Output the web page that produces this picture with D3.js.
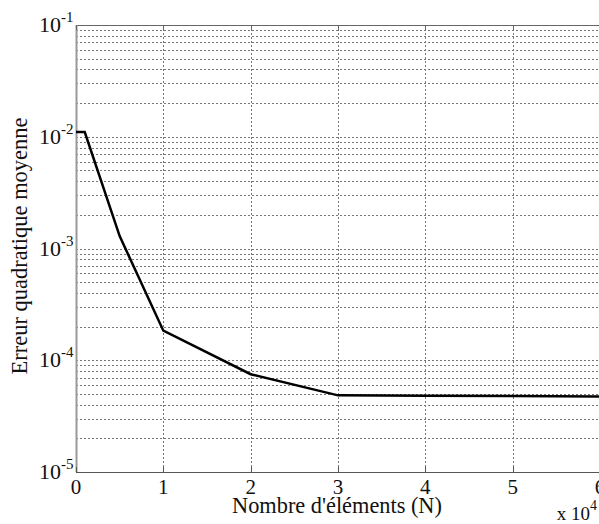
<!DOCTYPE html>
<html><head><meta charset="utf-8">
<script src="https://cdn.jsdelivr.net/npm/d3@7"></script>
<style>body{margin:0;background:#fff;} svg{display:block;} text{font-family:"Liberation Serif","Times New Roman",serif;}</style>
</head><body>
<script>
const xValues = [0, 0.1, 0.5, 1, 2, 3, 4, 5, 6];
const errValues = [0.011, 0.011, 0.00129, 0.000184, 0.000075, 0.0000485, 0.0000482, 0.0000478, 0.0000475];
const xTicks = [0, 1, 2, 3, 4, 5, 6];
const yTicks = [1e-5, 1e-4, 1e-3, 1e-2, 1e-1];
const yExponents = ["-5", "-4", "-3", "-2", "-1"];

const W = 599, H = 524;
const m = {left: 76, top: 25, right: 600, bottom: 472};
const svg = d3.select("body").append("svg").attr("width", W).attr("height", H);
const x = d3.scaleLinear().domain([0, 6]).range([m.left, m.right]);
const y = d3.scaleLog().domain([1e-5, 1e-1]).range([m.bottom, m.top]);

// minor + major y grid
const yGrid = [];
for (let e = -5; e < -1; e++) for (let k = 1; k <= 9; k++) yGrid.push(k * Math.pow(10, e));
svg.append("g").selectAll("line").data(yGrid.filter(v => v > 1e-5)).join("line")
  .attr("x1", m.left).attr("x2", m.right)
  .attr("y1", d => Math.round(y(d)) + 0.5).attr("y2", d => Math.round(y(d)) + 0.5)
  .attr("stroke", "#777").attr("stroke-width", 1).attr("stroke-dasharray", "2,2");
svg.append("g").selectAll("line").data(xTicks.slice(1)).join("line")
  .attr("x1", d => Math.round(x(d)) + 0.5).attr("x2", d => Math.round(x(d)) + 0.5)
  .attr("y1", m.top).attr("y2", m.bottom)
  .attr("stroke", "#777").attr("stroke-width", 1).attr("stroke-dasharray", "2,2");

// axes box
svg.append("line").attr("x1", m.left).attr("x2", m.right).attr("y1", m.top + 0.5).attr("y2", m.top + 0.5).attr("stroke", "#666");
svg.append("line").attr("x1", m.left).attr("x2", m.right).attr("y1", m.bottom + 0.5).attr("y2", m.bottom + 0.5).attr("stroke", "#555");
svg.append("line").attr("x1", m.left + 0.5).attr("x2", m.left + 0.5).attr("y1", m.top).attr("y2", m.bottom).attr("stroke", "#999").attr("stroke-width", 2);

// x tick marks
svg.append("g").selectAll("line").data(xTicks).join("line")
  .attr("x1", d => Math.round(x(d)) + 0.5).attr("x2", d => Math.round(x(d)) + 0.5)
  .attr("y1", m.bottom - 5).attr("y2", m.bottom).attr("stroke", "#555");
svg.append("g").selectAll("line").data(xTicks).join("line")
  .attr("x1", d => Math.round(x(d)) + 0.5).attr("x2", d => Math.round(x(d)) + 0.5)
  .attr("y1", m.top).attr("y2", m.top + 5).attr("stroke", "#666");

// x tick labels
svg.append("g").selectAll("text").data(xTicks).join("text")
  .attr("x", d => x(d)).attr("y", m.bottom + 22).attr("text-anchor", "middle")
  .attr("font-size", 21).attr("fill", "#111").text(d => d);

// y tick labels
const yl = svg.append("g").selectAll("text").data(yTicks).join("text")
  .attr("x", 39).attr("y", d => y(d) + 7).attr("font-size", 22).attr("fill", "#111");
yl.append("tspan").text("10");
yl.append("tspan").attr("dy", -10).attr("font-size", 15).text((d, i) => yExponents[i]);

// line
svg.append("path").datum(xValues.map((v, i) => [v, errValues[i]]))
  .attr("d", d3.line().x(d => x(d[0])).y(d => y(d[1])))
  .attr("fill", "none").attr("stroke", "#000").attr("stroke-width", 2.5);

// labels, sized to the reference's widths
function fitFont(sel, target) {
  const w = sel.node().getComputedTextLength();
  const fs = +sel.attr("font-size");
  sel.attr("font-size", fs * target / w);
}
const xl = svg.append("text").attr("x", 337).attr("y", 513).attr("text-anchor", "middle")
  .attr("font-size", 21).attr("fill", "#111").text("Nombre d'éléments (N)");
fitFont(xl, 210);
const ylab = svg.append("text").attr("transform", "translate(27,246) rotate(-90)").attr("text-anchor", "middle")
  .attr("font-size", 21).attr("fill", "#111").text("Erreur quadratique moyenne");
fitFont(ylab, 257);
const ex = svg.append("text").attr("x", 597).attr("y", 520).attr("text-anchor", "end").attr("font-size", 19).attr("fill", "#111");
ex.append("tspan").text("x 10");
ex.append("tspan").attr("dy", -10).attr("font-size", 14).text("4");
</script>
</body></html>
